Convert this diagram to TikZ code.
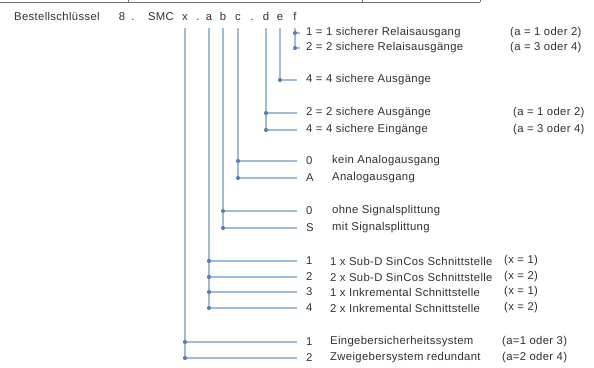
\documentclass[tikz,border=0pt]{standalone}
\usepackage{fontspec}
\setmainfont{Liberation Sans}[LetterSpace=3]
\usetikzlibrary{positioning}
\definecolor{lineblue}{HTML}{A3BCD6}
\definecolor{dotblue}{HTML}{5F80A8}
\definecolor{textgray}{HTML}{303030}
\definecolor{framegray}{HTML}{6E6E6E}

\begin{document}
\begin{tikzpicture}[
  x=1pt, y=-1pt,
  font=\fontsize{11.3}{13}\selectfont, text=textgray,
  key/.style={inner sep=0pt, anchor=base, text height=7.5pt, text depth=0pt},
  num/.style={anchor=west, inner xsep=9pt, inner ysep=0pt},
  desc/.style={anchor=west, inner sep=0pt},
  leg/.style={draw=lineblue, line width=1.1pt},
  dot/.style={fill=dotblue}
]
  \useasboundingbox (0,0) rectangle (594,367);

  % edge of the table above
  \draw[framegray, line width=0.8pt] (0,2) -- (480,2)
    (128,0) -- (128,2) (362,0) -- (362,2) (480,0) -- (480,2);

  % order key
  \node[key, anchor=base west] (title) at (14,20) {Bestellschlüssel};
  \node[key] (k8) at (122,20) {8};
  \node[key] (p1) at (133,20) {.};
  \node[key] (smc) at (161,20) {SMC};
  \node[key] (kx) at (185,20) {x};
  \node[key] (p2) at (198,20) {.};
  \node[key] (ka) at (209,20) {a};
  \node[key] (kb) at (223,20) {b};
  \node[key] (kc) at (238,20) {c};
  \node[key] (p3) at (252,20) {.};
  \node[key] (kd) at (266,20) {d};
  \node[key] (ke) at (280,20) {e};
  \node[key] (kf) at (295,20) {f};

  % f
  \node[desc, inner xsep=6pt] (f1) at (300,33) {1 = 1 sicherer Relaisausgang};
  \node[desc, inner xsep=6pt] (f2) at (300,48) {2 = 2 sichere Relaisausgänge};
  \node[desc] (f1n) at (510,33) {(a = 1 oder 2)};
  \node[desc] (f2n) at (510,48) {(a = 3 oder 4)};
  % e
  \node[num] (e1) at (297,80) {4 = 4 sichere Ausgänge};
  % d
  \node[num] (d1) at (297,113) {2 = 2 sichere Ausgänge};
  \node[num] (d2) at (297,130) {4 = 4 sichere Eingänge};
  \node[desc] (d1n) at (513,113) {(a = 1 oder 2)};
  \node[desc] (d2n) at (513,130) {(a = 3 oder 4)};
  % c
  \node[num] (c1) at (297,161) {0};
  \node[num] (c2) at (297,178) {A};
  \node[desc] (c1t) at (332,161) {kein Analogausgang};
  \node[desc] (c2t) at (332,178) {Analogausgang};
  % b
  \node[num] (b1) at (297,211) {0};
  \node[num] (b2) at (297,228) {S};
  \node[desc] (b1t) at (332,211) {ohne Signalsplittung};
  \node[desc] (b2t) at (332,228) {mit Signalsplittung};
  % a
  \node[num] (a1) at (297,261) {1};
  \node[num] (a2) at (297,277) {2};
  \node[num] (a3) at (297,292) {3};
  \node[num] (a4) at (297,308) {4};
  \node[desc] (a1t) at (330,261) {1 x Sub-D SinCos Schnittstelle};
  \node[desc] (a2t) at (330,277) {2 x Sub-D SinCos Schnittstelle};
  \node[desc] (a3t) at (330,292) {1 x Inkremental Schnittstelle};
  \node[desc] (a4t) at (330,308) {2 x Inkremental Schnittstelle};
  \node[desc] (a1n) at (504,261) {(x = 1)};
  \node[desc] (a2n) at (504,277) {(x = 2)};
  \node[desc] (a3n) at (504,292) {(x = 1)};
  \node[desc] (a4n) at (504,308) {(x = 2)};
  % x
  \node[num] (x1) at (297,342) {1};
  \node[num] (x2) at (297,358) {2};
  \node[desc] (x1t) at (330,342) {Eingebersicherheitssystem};
  \node[desc] (x2t) at (330,358) {Zweigebersystem redundant};
  \node[desc] (x1n) at (502,342) {(a=1 oder 3)};
  \node[desc] (x2n) at (502,358) {(a=2 oder 4)};

  % legs
  \draw[leg] ([yshift=-8pt]kf.south) |- (f2.west);
  \draw[leg] (kf |- f1) -- (f1.west);
  \draw[leg] ([yshift=-8pt]ke.south) |- (e1.west);
  \draw[leg] ([yshift=-8pt]kd.south) |- (d2.west);
  \draw[leg] (kd |- d1) -- (d1.west);
  \draw[leg] ([yshift=-8pt]kc.south) |- (c2.west);
  \draw[leg] (kc |- c1) -- (c1.west);
  \draw[leg] ([yshift=-8pt]kb.south) |- (b2.west);
  \draw[leg] (kb |- b1) -- (b1.west);
  \draw[leg] ([yshift=-8pt]ka.south) |- (a4.west);
  \draw[leg] (ka |- a1) -- (a1.west);
  \draw[leg] (ka |- a2) -- (a2.west);
  \draw[leg] (ka |- a3) -- (a3.west);
  \draw[leg] ([yshift=-8pt]kx.south) |- (x2.west);
  \draw[leg] (kx |- x1) -- (x1.west);

  % dots
  \fill[dot] (kf |- f1) circle (2.1pt) (kf |- f2) circle (2.1pt);
  \fill[dot] (ke |- e1) circle (2.1pt);
  \fill[dot] (kd |- d1) circle (2.1pt) (kd |- d2) circle (2.1pt);
  \fill[dot] (kc |- c1) circle (2.1pt) (kc |- c2) circle (2.1pt);
  \fill[dot] (kb |- b1) circle (2.1pt) (kb |- b2) circle (2.1pt);
  \fill[dot] (ka |- a1) circle (2.1pt) (ka |- a2) circle (2.1pt)
             (ka |- a3) circle (2.1pt) (ka |- a4) circle (2.1pt);
  \fill[dot] (kx |- x1) circle (2.1pt) (kx |- x2) circle (2.1pt);
\end{tikzpicture}
\end{document}
